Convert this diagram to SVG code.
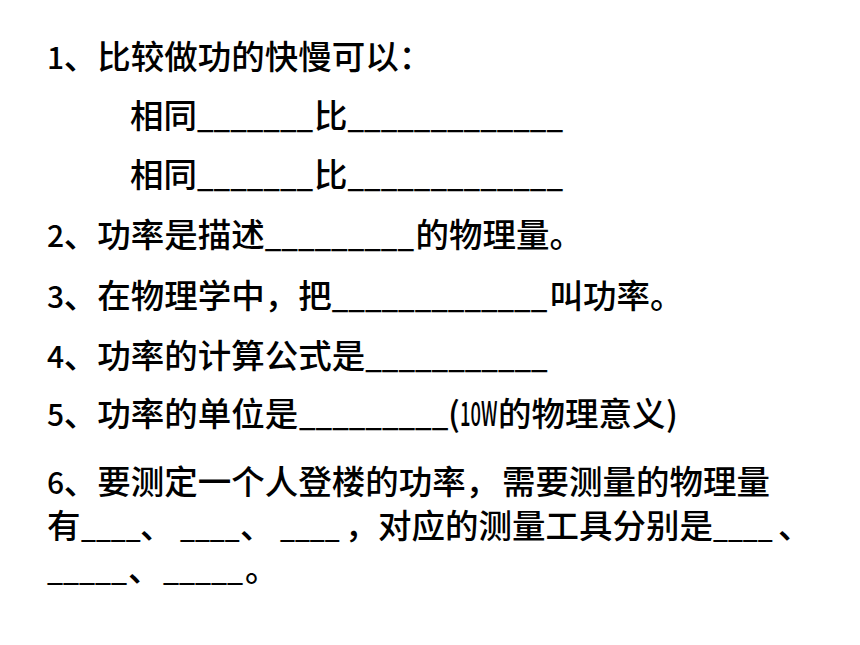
<svg xmlns="http://www.w3.org/2000/svg" width="860" height="645" viewBox="0 0 860 645">
<style>
.t{font-family:"Noto Sans CJK SC","Noto Sans",sans-serif;font-size:33.5px;font-weight:500;fill:#000}
.d{font-size:30px}
.u{font-size:29.5px}
.u4{font-size:26.5px}
.u5{font-size:28.5px}
</style>
<rect width="860" height="645" fill="#fff"/>
<g id="q1">
<text class="t" y="69"><tspan x="47" class="d">1</tspan><tspan x="63.75">、</tspan><tspan x="97.25">比较做功的快慢可以：</tspan></text>
<text class="t" y="128"><tspan x="130">相同</tspan><tspan x="197" class="u">_______</tspan><tspan x="314">比</tspan><tspan x="347.5" class="u">_____________</tspan></text>
<text class="t" y="187"><tspan x="130">相同</tspan><tspan x="197" class="u">_______</tspan><tspan x="314">比</tspan><tspan x="347.5" class="u">_____________</tspan></text>
</g>
<g id="q2">
<text class="t" y="247"><tspan x="47" class="d">2</tspan><tspan x="63.75">、</tspan><tspan x="97.25">功率是描述</tspan><tspan x="264.75" class="u">_________</tspan><tspan x="415.5">的物理量。</tspan></text>
</g>
<g id="q3">
<text class="t" y="308"><tspan x="47" class="d">3</tspan><tspan x="63.75">、</tspan><tspan x="97.25">在物理学中，把</tspan><tspan x="331.75" class="u">_____________</tspan><tspan x="549.5">叫功率。</tspan></text>
</g>
<g id="q4">
<text class="t" y="368"><tspan x="47" class="d">4</tspan><tspan x="63.75">、</tspan><tspan x="97.25">功率的计算公式是</tspan><tspan x="365.25" class="u">___________</tspan></text>
</g>
<g id="q5">
<text class="t" y="426"><tspan x="47" class="d">5</tspan><tspan x="63.75">、</tspan><tspan x="97.25">功率的单位是</tspan><tspan x="299" class="u">_________</tspan><tspan x="448">(</tspan></text>
<text class="t" transform="translate(460,426) scale(0.55,1)" x="0" y="0">10W</text>
<text class="t" y="426"><tspan x="498">的物理意义</tspan><tspan x="666">)</tspan></text>
</g>
<g id="q6">
<text class="t" y="494"><tspan x="47" class="d">6</tspan><tspan x="63.75">、</tspan><tspan x="97.25">要测定一个人登楼的功率，</tspan><tspan x="502">需要测量的物理量</tspan></text>
<text class="t" y="538"><tspan x="47">有</tspan><tspan x="81" class="u4">____</tspan><tspan x="140">、</tspan><tspan x="180" class="u4">____</tspan><tspan x="240">、</tspan><tspan x="280" class="u4">____</tspan><tspan x="345">，</tspan><tspan x="378">对应的测量工具分别是</tspan><tspan x="713" class="u4">____</tspan><tspan x="778">、</tspan></text>
<text class="t" y="581"><tspan x="47" class="u5">_____</tspan><tspan x="128">、</tspan><tspan x="163" class="u5">_____</tspan><tspan x="245">。</tspan></text>
</g>
</svg>
